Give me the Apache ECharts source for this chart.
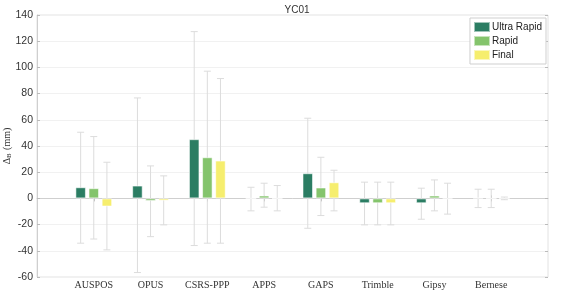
<!DOCTYPE html>
<html>
<head>
<meta charset="utf-8">
<script src="https://cdn.jsdelivr.net/npm/echarts@6/dist/echarts.min.js"></script>
<style>
  html, body { margin: 0; padding: 0; background: #fff; }
  #chart { width: 563px; height: 298px; }
</style>
</head>
<body>
<div id="chart"></div>
<script>
const categories = ['AUSPOS', 'OPUS', 'CSRS-PPP', 'APPS', 'GAPS', 'Trimble', 'Gipsy', 'Bernese'];
const seriesNames = ['Ultra Rapid', 'Rapid', 'Final'];
const colors = ['#2b7d63', '#84c46c', '#f6ee6e'];

const ultraRapid = [8.5, 9.8, 45.2, 0, 19.2, -3.7, -3.7, 0.4];
const rapid = [7.8, -2.0, 31.4, 2.2, 8.3, -3.7, 2.2, 0];
const finalVals = [-6.2, -1.7, 28.9, 0, 12.3, -3.7, -0.5, 0];

const ultraRapidHigh = [50.5, 76.7, 127.3, 8.5, 61.2, 12.4, 7.8, 7];
const ultraRapidLow = [-34.2, -56.6, -36, -9.5, -22.8, -20.2, -15.9, -7];
const rapidHigh = [47.2, 24.8, 97.1, 11.6, 31.4, 12.4, 14.1, 7];
const rapidLow = [-31, -29.2, -34.2, -6.7, -13.1, -20.2, -9.5, -7];
const finalHigh = [27.6, 17.2, 91.5, 9.8, 21.5, 12.4, 11.6, 1];
const finalLow = [-39.3, -20.2, -34.2, -9.5, -9.5, -20.2, -12, -1];

const yTicks = [-60, -40, -20, 0, 20, 40, 60, 80, 100, 120, 140];

// pad with empty slots so the ticks sit like a 0..9 axis
const axisCats = [''].concat(categories, ['']);
const pad = arr => [null].concat(arr, [null]);

const barW = 10.5;
const step = barW * 1.25;

const errorSeries = (low, high, offset) => ({
  type: 'custom',
  silent: true,
  z: 1,
  data: low.map((l, i) => [i + 1, l, high[i]]),
  renderItem: function (params, api) {
    const lo = api.coord([api.value(0), api.value(1)]);
    const hi = api.coord([api.value(0), api.value(2)]);
    const x = lo[0] + offset;
    const cap = 3.5;
    const style = { stroke: '#dcdcdc', lineWidth: 1 };
    return {
      type: 'group',
      children: [
        { type: 'line', shape: { x1: x, y1: lo[1], x2: x, y2: hi[1] }, style },
        { type: 'line', shape: { x1: x - cap, y1: lo[1], x2: x + cap, y2: lo[1] }, style },
        { type: 'line', shape: { x1: x - cap, y1: hi[1], x2: x + cap, y2: hi[1] }, style }
      ]
    };
  }
});

const barSeries = (name, vals, color) => ({
  name: name,
  type: 'bar',
  z: 2,
  barWidth: barW,
  barGap: '25%',
  data: pad(vals),
  itemStyle: { color: color, borderColor: 'rgba(255,255,255,0.55)', borderWidth: 1 }
});

const chart = echarts.init(document.getElementById('chart'));

chart.setOption({
  animation: false,
  color: colors,
  title: {
    text: 'YC01',
    left: 292,
    textAlign: 'center',
    top: 0,
    textStyle: { fontFamily: 'Liberation Sans', fontSize: 10, fontWeight: 'normal', color: '#333' }
  },
  legend: {
    data: seriesNames,
    orient: 'vertical',
    right: 17,
    top: 18,
    itemWidth: 16,
    itemHeight: 10,
    itemGap: 2,
    icon: 'rect',
    padding: [3, 4, 3, 3],
    backgroundColor: '#fff',
    borderColor: '#cfcfcf',
    borderWidth: 1,
    borderRadius: 0,
    textStyle: { fontFamily: 'Liberation Sans', fontSize: 10, color: '#222', padding: [0, 0, 0, -3] }
  },
  grid: {
    left: 37,
    right: 15,
    top: 15,
    bottom: 21,
    containLabel: false,
    outerBoundsMode: 'none',
    show: true,
    borderColor: '#e2e2e2',
    borderWidth: 1
  },
  xAxis: [
    {
      type: 'category',
      data: axisCats,
      boundaryGap: false,
      axisLine: { lineStyle: { color: '#cfcfcf' } },
      axisTick: { inside: true, length: 3, lineStyle: { color: '#bbb' }, interval: (i) => i > 0 && i < axisCats.length - 1 },
      axisLabel: { fontFamily: 'Liberation Serif', fontSize: 10, color: '#333', margin: 3, interval: 0 },
      splitLine: { show: false }
    },
    {
      type: 'category',
      data: axisCats,
      boundaryGap: false,
      position: 'top',
      axisLine: { show: false },
      axisTick: { inside: true, length: 3, lineStyle: { color: '#bbb' }, interval: (i) => i > 0 && i < axisCats.length - 1 },
      axisLabel: { show: false }
    }
  ],
  yAxis: [
    {
      type: 'value',
      min: yTicks[0],
      max: yTicks[yTicks.length - 1],
      interval: 20,
      name: '{d|Δ}{s|B} {d|(mm)}',
      nameLocation: 'middle',
      nameRotate: 90,
      nameGap: 24,
      nameMoveOverlap: false,
      nameTextStyle: {
        rich: {
          d: { fontFamily: 'Liberation Serif', fontSize: 10, color: '#333' },
          s: { fontFamily: 'Liberation Serif', fontSize: 7, color: '#333', verticalAlign: 'bottom', padding: [4, 0, 0, 0] }
        }
      },
      axisLine: { show: true, lineStyle: { color: '#cfcfcf' } },
      axisTick: { show: true, inside: true, length: 3, lineStyle: { color: '#bbb' } },
      axisLabel: { fontFamily: 'Liberation Sans', fontSize: 10.5, color: '#333', margin: 4 },
      splitLine: { lineStyle: { color: '#f1f1f1' } }
    },
    {
      type: 'value',
      min: yTicks[0],
      max: yTicks[yTicks.length - 1],
      interval: 20,
      position: 'right',
      axisLine: { show: false },
      axisTick: { show: true, inside: true, length: 3, lineStyle: { color: '#bbb' } },
      axisLabel: { show: false },
      splitLine: { show: false }
    }
  ],
  series: [
    errorSeries(ultraRapidLow, ultraRapidHigh, -step),
    errorSeries(rapidLow, rapidHigh, 0),
    errorSeries(finalLow, finalHigh, step),
    barSeries(seriesNames[0], ultraRapid, colors[0]),
    barSeries(seriesNames[1], rapid, colors[1]),
    barSeries(seriesNames[2], finalVals, colors[2])
  ]
});
</script>
</body>
</html>
